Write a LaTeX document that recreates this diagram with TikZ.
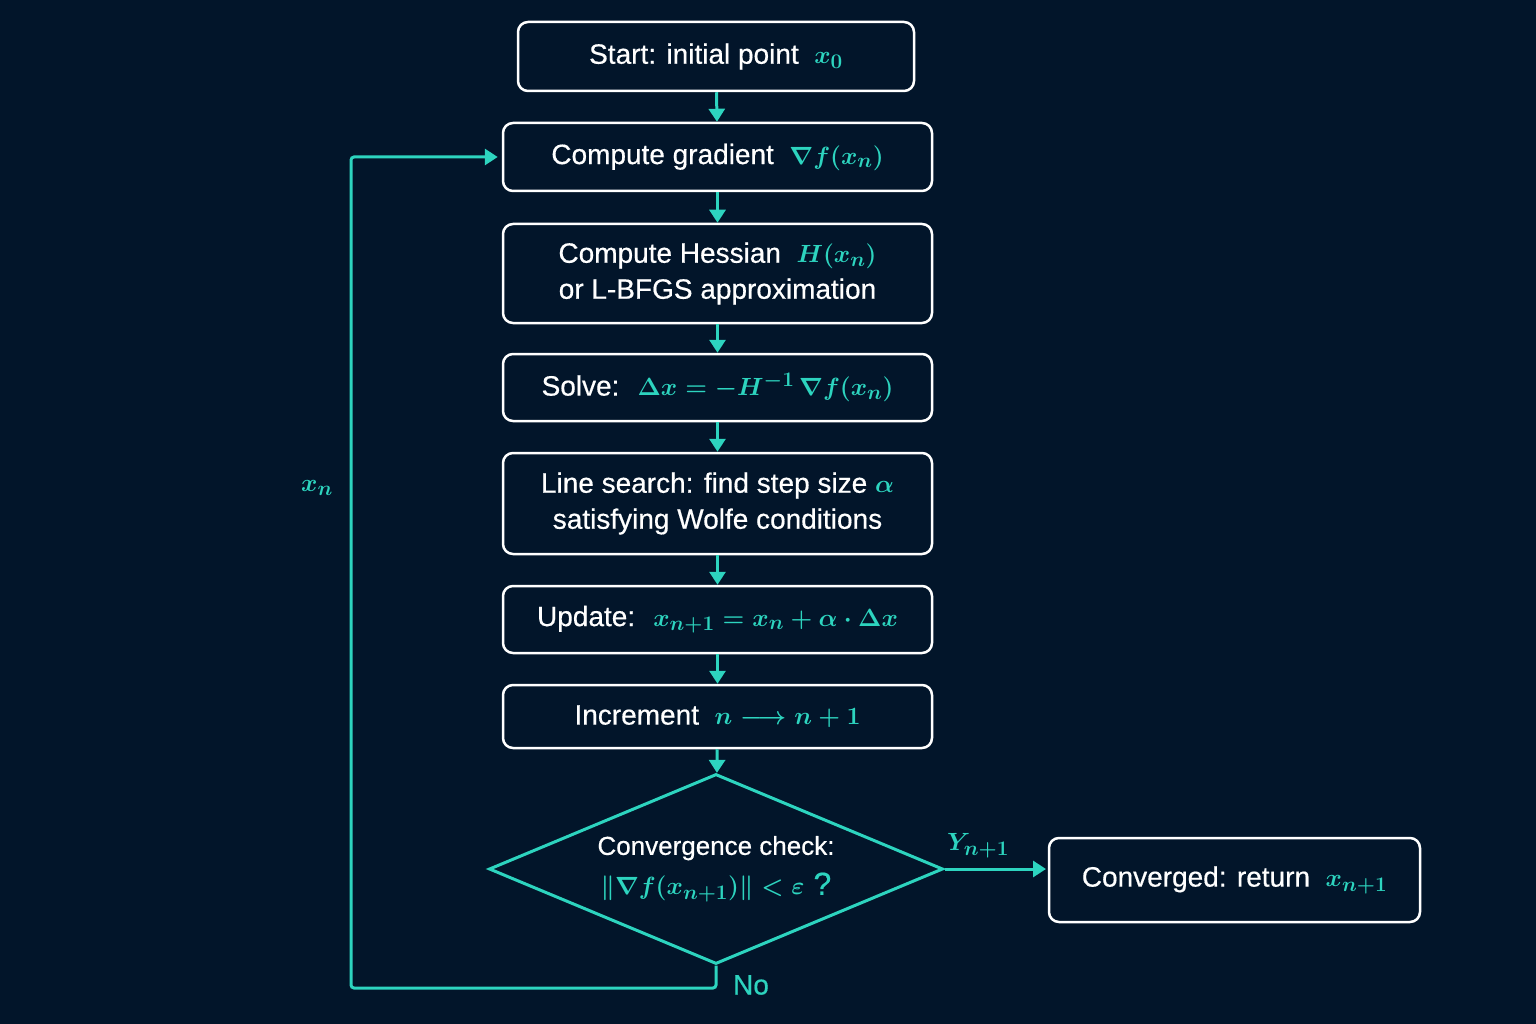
\documentclass[tikz,border=0pt]{standalone}
\usepackage{fontspec}
\setmainfont{Liberation Sans}[FakeBold=0.5]
\usetikzlibrary{arrows.meta,shapes.geometric}
\definecolor{bgc}{RGB}{2,21,42}
\definecolor{teal}{RGB}{45,212,191}
\newcommand{\tm}[1]{\textcolor{teal}{\boldmath$#1$}}
\newcommand{\fmain}{\fontsize{28}{36}\selectfont}
\newcommand{\fdia}{\fontsize{26}{32}\selectfont}
\newcommand{\fbig}{\fontsize{32}{38}\selectfont}
\newcommand{\flab}{\fontsize{30}{36}\selectfont}
\begin{document}
\begin{tikzpicture}[x=1pt,y=-1pt,
  every node/.style={font=\fmain, text=white},
  box/.style={draw=white, line width=2.5pt, rounded corners=10pt, minimum width=429pt, align=center, inner sep=0pt},
  conn/.style={draw=teal, line width=3pt, -{Triangle[width=16pt,length=13pt]}},
  tlabel/.style={text=teal}]
\fill[bgc] (0,0) rectangle (1536,1024);
\useasboundingbox (0,0) rectangle (1536,1024);
\node[box, minimum width=396pt, minimum height=69pt] (start) at (716,56.5) {Start: initial point \ \tm{x_0}};
\node[box, minimum height=68pt] (grad) at (717.5,157) {Compute gradient \ \tm{\nabla f(x_n)}};
\node[box, minimum height=99pt] (hess) at (717.5,273.5) {Compute Hessian \ \tm{H(x_n)}\\or L-BFGS approximation};
\node[box, minimum height=67pt] (solve) at (717.5,387.5) {Solve: \ \tm{\Delta x = -H^{-1}\,\nabla f(x_n)}};
\node[box, minimum height=101pt] (line) at (717.5,503.5) {Line search: find step size \tm{\alpha}\\satisfying Wolfe conditions};
\node[box, minimum height=67pt] (upd) at (717.5,619.5) {Update: \ \tm{x_{n+1} = x_n + \alpha\cdot\Delta x}};
\node[box, minimum height=63pt] (inc) at (717.5,716.5) {Increment \ \tm{n \longrightarrow n+1}};
\node[diamond, draw=teal, line width=3pt, minimum width=454pt, minimum height=190pt, aspect=2.39, inner sep=0pt, align=center] (dia) at (716,869)
  {{\fdia Convergence check:}\\[4pt]{\fbig\tm{\|\nabla f(x_{n+1})\| < \varepsilon}\textcolor{teal}{\ ?}}};
\node[box, minimum width=371pt, minimum height=84pt] (conv) at (1234.5,880) {Converged: return \ \tm{x_{n+1}}};
\coordinate (c2) at (351,988);
\coordinate (yend) at (1049,869);
\draw[conn] (start) -- (grad);
\draw[conn] (grad) -- (hess);
\draw[conn] (hess) -- (solve);
\draw[conn] (solve) -- (line);
\draw[conn] (line) -- (upd);
\draw[conn] (upd) -- (inc);
\draw[conn] (inc) -- (dia);
\draw[conn, shorten >=3pt] (dia.east) -- (yend);
\draw[conn, rounded corners=3pt, shorten >=4pt] (dia.south) |- (c2) |- (grad.west);
\node[tlabel, font=\flab] (yes) at (978,846) {\tm{Y_{n+1}}};
\node[tlabel] (no) at (751,985) {No};
\node[tlabel, font=\fbig] (xn) at (317,488) {\tm{x_n}};
\end{tikzpicture}
\end{document}
